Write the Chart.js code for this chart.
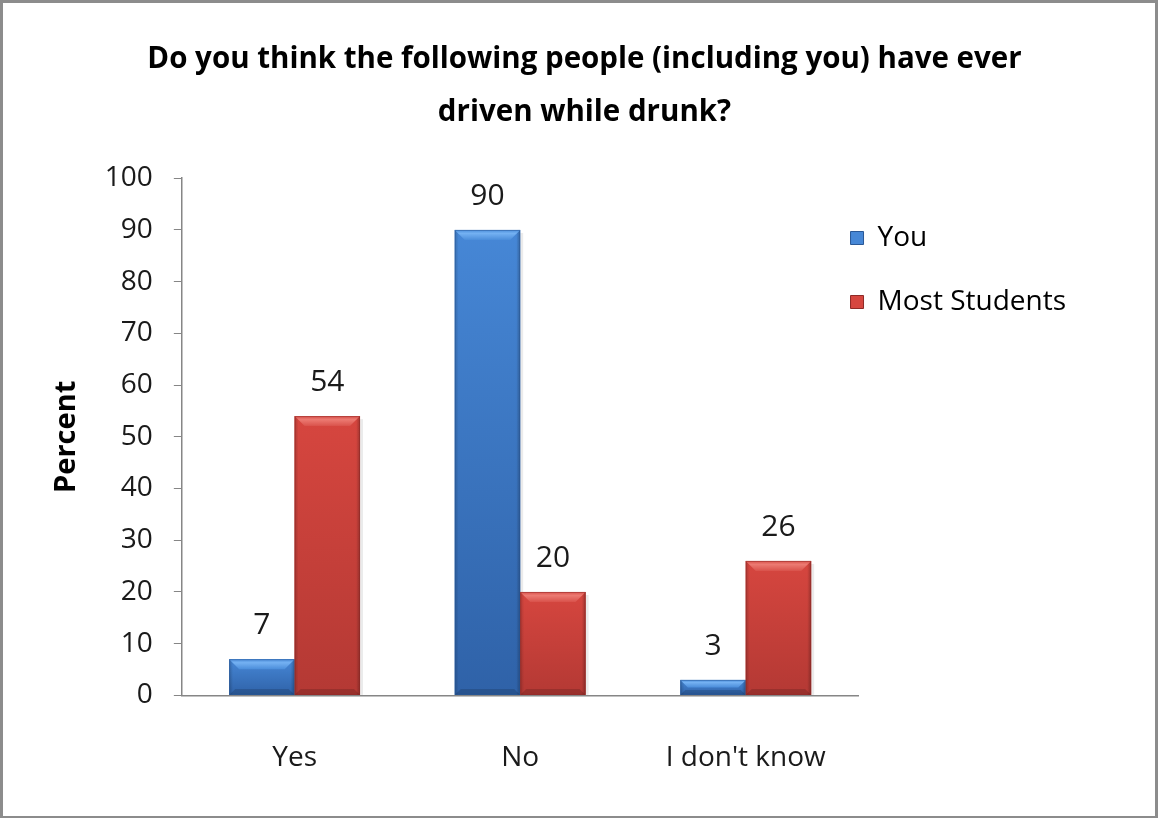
<!DOCTYPE html>
<html>
<head>
<meta charset="utf-8">
<script src="https://cdn.jsdelivr.net/npm/chart.js@4.4.0/dist/chart.umd.min.js"></script>
<style>
html,body{margin:0;padding:0;background:#fff;}
#wrap{position:absolute;left:0;top:0;width:1152px;height:813px;border-left:3px solid #8c8c8c;border-top:3px solid #8c8c8c;border-right:3px solid #8c8c8c;border-bottom:2px solid #8c8c8c;background:#fff;}
canvas{display:block;}
</style>
</head>
<body>
<div id="wrap"><canvas id="c" width="1152" height="813"></canvas></div>
<script>
const categories = ["Yes", "No", "I don't know"];
const youValues = [7, 90, 3];
const mostStudentsValues = [54, 20, 26];
const seriesNames = ["You", "Most Students"];
const titleLines = ["Do you think the following people (including you) have ever", "driven while drunk?"];
const yAxisTitle = "Percent";

const FONT = "'Open Sans', 'DejaVu Sans', sans-serif";

// bar face colours: [top, bottom, bevel light, bevel mid, edge]
const youShades = ['#4687d6', '#2f62a8', '#74b1f2', '#4b8dda', '#2a5896'];
const mostShades = ['#d6463f', '#b43934', '#ec7a72', '#d9524b', '#8e2a27'];

const bevelPlugin = {
  id:'bevel',
  afterDatasetsDraw(chart){
    const ctx=chart.ctx;
    chart.data.datasets.forEach((ds,i)=>{
      const meta=chart.getDatasetMeta(i);
      const s=ds.shades;
      meta.data.forEach(bar=>{
        const x0=bar.x-bar.width/2,x1=bar.x+bar.width/2,y0=bar.y,y1=bar.base;
        const h=y1-y0; const bv=Math.min(10,h/2);
        ctx.save();
        ctx.fillStyle='rgba(0,0,0,0.08)';
        ctx.fillRect(x1,y0+3,3,h-3);
        const g=ctx.createLinearGradient(0,y0,0,y1);
        g.addColorStop(0,s[0]); g.addColorStop(1,s[1]);
        ctx.fillStyle=g; ctx.fillRect(x0,y0,x1-x0,h);
        const eg=ctx.createLinearGradient(x0,0,x1,0);
        eg.addColorStop(0,'rgba(0,0,0,0.18)');eg.addColorStop(0.06,'rgba(0,0,0,0)');
        eg.addColorStop(0.94,'rgba(0,0,0,0)');eg.addColorStop(1,'rgba(0,0,0,0.25)');
        ctx.fillStyle=eg; ctx.fillRect(x0,y0,x1-x0,h);
        const tg=ctx.createLinearGradient(0,y0,0,y0+bv);
        tg.addColorStop(0,s[3]);tg.addColorStop(0.35,s[2]);tg.addColorStop(1,s[3]);
        ctx.fillStyle=tg;
        ctx.beginPath();ctx.moveTo(x0,y0);ctx.lineTo(x1,y0);ctx.lineTo(x1-bv,y0+bv);ctx.lineTo(x0+bv,y0+bv);ctx.closePath();ctx.fill();
        const bb=Math.min(6,h/3);
        ctx.fillStyle='rgba(0,0,0,0.15)';
        ctx.beginPath();ctx.moveTo(x0,y1);ctx.lineTo(x1,y1);ctx.lineTo(x1-bb,y1-bb);ctx.lineTo(x0+bb,y1-bb);ctx.closePath();ctx.fill();
        ctx.strokeStyle=s[4]; ctx.globalAlpha=0.5; ctx.lineWidth=1;
        ctx.strokeRect(x0+0.5,y0+0.5,x1-x0-1,h-1);
        ctx.restore();
      });
    });
  }
};

const labelPlugin = {
  id:'vlabels',
  afterDatasetsDraw(chart){
    const ctx=chart.ctx;
    ctx.save();
    ctx.font="30px "+FONT; ctx.fillStyle="#1a1a1a"; ctx.textAlign="center"; ctx.textBaseline="alphabetic";
    chart.data.datasets.forEach((ds,i)=>{
      chart.getDatasetMeta(i).data.forEach((bar,j)=>{
        ctx.fillText(String(ds.data[j]), bar.x, bar.y-25);
      });
    });
    ctx.restore();
  }
};

// place the legend block beside the plot like the original layout
const legendPlace = {
  id:'legendPlace',
  afterLayout(chart){
    const l=chart.legend; if(!l) return;
    const dx = (chart.chartArea.right - 8 - 36) - l.left;
    const dy = 185 - l.top;
    l.left+=dx; l.right+=dx; l.top+=dy; l.bottom+=dy;
  }
};

new Chart(document.getElementById('c'),{
  type:'bar',
  data:{
    labels:categories,
    datasets:[
      {label:seriesNames[0],data:youValues,backgroundColor:youShades[0],shades:youShades,borderWidth:0},
      {label:seriesNames[1],data:mostStudentsValues,backgroundColor:mostShades[0],shades:mostShades,borderWidth:0}
    ]
  },
  options:{
    responsive:false,
    animation:false,
    layout:{padding:{left:46,right:35,top:0,bottom:-5}},
    categoryPercentage:0.58,
    barPercentage:1.0,
    plugins:{
      title:{display:true,text:titleLines,color:'#000',font:{family:FONT,size:29.5,weight:'bold',lineHeight:1.8},padding:{top:30,bottom:39}},
      legend:{position:'right',align:'start',
        labels:{color:'#1a1a1a',font:{family:FONT,size:28},boxWidth:13,boxHeight:13,padding:36,
          generateLabels(chart){return chart.data.datasets.map((d,i)=>({text:d.label,fillStyle:d.shades[0],strokeStyle:d.shades[4],lineWidth:1,datasetIndex:i}));}
        }},
      tooltip:{enabled:false}
    },
    scales:{
      x:{grid:{display:true,drawOnChartArea:false,drawTicks:false,color:'#868686'},border:{color:'#868686',width:1.5},
        ticks:{color:'#1a1a1a',font:{family:FONT,size:28},padding:46}},
      y:{min:0,max:100,grid:{display:true,drawOnChartArea:false,drawTicks:true,tickLength:8,color:'#868686'},border:{color:'#868686',width:1.5},
        ticks:{stepSize:10,color:'#1a1a1a',font:{family:FONT,size:28},padding:21},
        title:{display:true,text:yAxisTitle,color:'#000',font:{family:FONT,size:29,weight:'bold'},padding:{top:0,bottom:0}}}
    }
  },
  plugins:[bevelPlugin,labelPlugin,legendPlace]
});
</script>
</body>
</html>
